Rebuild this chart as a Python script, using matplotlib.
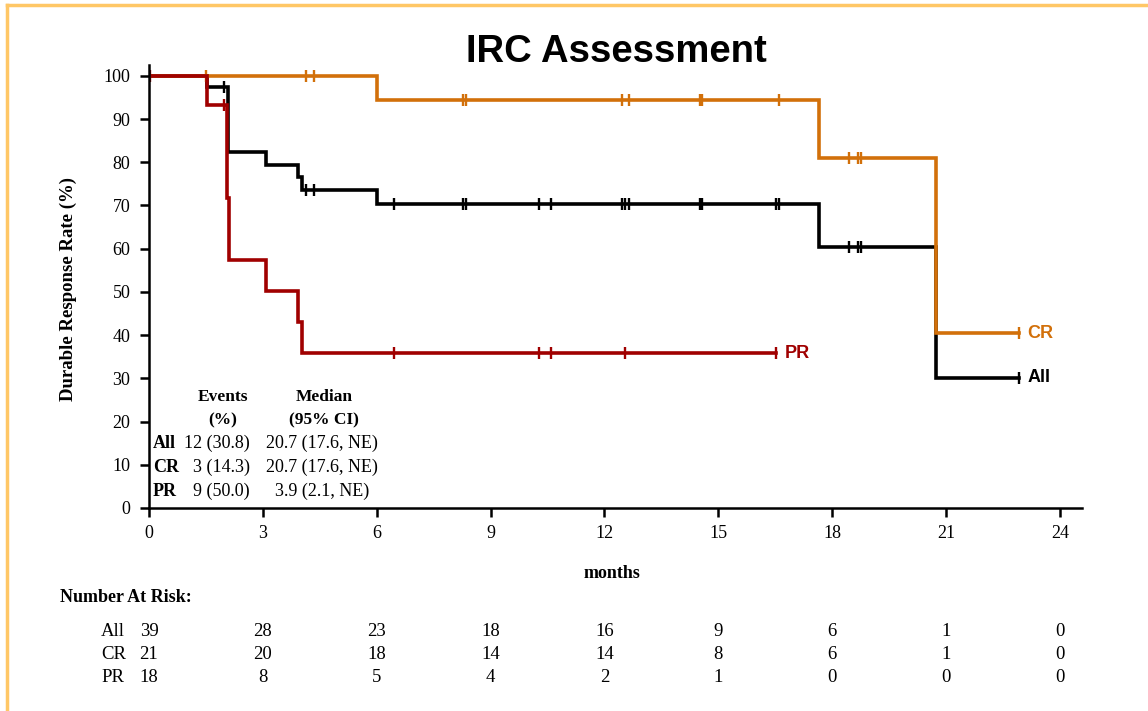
import numpy as np
import matplotlib.pyplot as plt
import matplotlib.transforms as mtransforms
from matplotlib.lines import Line2D

W, H = 1148, 711

# step curves: step times (months) and rate (%) after each step
all_t = [0, 1.52, 2.08, 3.07, 3.92, 4.02, 6.0, 17.66, 20.73, 22.93]
all_s = [100, 97.4, 82.3, 79.4, 76.5, 73.5, 70.4, 60.3, 30.1, 30.1]
all_cens = [1.98, 4.13, 4.34, 6.45, 8.28, 8.35, 10.28, 10.58, 12.47, 12.54, 12.65,
            14.52, 14.56, 16.53, 16.6, 18.45, 18.69, 18.76, 22.93]

cr_t = [0, 6.0, 17.66, 20.73, 22.93]
cr_s = [100, 94.3, 80.9, 40.4, 40.4]
cr_cens = [1.49, 4.13, 4.34, 8.28, 8.35, 12.47, 12.65, 14.52, 14.56, 16.6,
           18.45, 18.69, 18.76, 22.93]

pr_t = [0, 1.54, 2.06, 2.1, 3.07, 3.92, 4.02, 16.53]
pr_s = [100, 93.3, 71.7, 57.3, 50.3, 43.0, 35.8, 35.8]
pr_cens = [0.03, 1.98, 6.45, 10.28, 10.58, 12.54, 16.53]

# events / median table
tab_groups = ['All', 'CR', 'PR']
tab_events = ['12 (30.8)', '3 (14.3)', '9 (50.0)']
tab_median = ['20.7 (17.6, NE)', '20.7 (17.6, NE)', '3.9 (2.1, NE)']

# number at risk
risk_months = [0, 3, 6, 9, 12, 15, 18, 21, 24]
risk_all = [39, 28, 23, 18, 16, 9, 6, 1, 0]
risk_cr = [21, 20, 18, 14, 14, 8, 6, 1, 0]
risk_pr = [18, 8, 5, 4, 2, 1, 0, 0, 0]

c_all = 'black'
c_cr = '#d2700a'
c_pr = '#a00000'

serif = 'Liberation Serif'
sans = 'Liberation Sans'


def px(x, y):
    return x / W, 1 - y / H


def level_at(t, s, x):
    i = np.searchsorted(np.array(t), np.array(x), side='right') - 1
    return np.array(s)[i]


fig = plt.figure(figsize=(W / 100, H / 100), dpi=100)
ax = fig.add_axes([149 / W, 1 - 508 / H, (1082 - 149) / W, (508 - 65) / H])

for t, s, cens, col in [(all_t, all_s, all_cens, c_all),
                        (cr_t, cr_s, cr_cens, c_cr),
                        (pr_t, pr_s, pr_cens, c_pr)]:
    ax.step(t, s, where='post', color=col, lw=2.6, solid_joinstyle='miter')
    ax.plot(cens, level_at(t, s, cens), ls='none', marker='|', ms=9,
            mew=1.7, color=col)

for t, s, name, col in [(all_t, all_s, 'All', c_all), (cr_t, cr_s, 'CR', c_cr),
                        (pr_t, pr_s, 'PR', c_pr)]:
    ax.annotate(name, (t[-1], s[-1]), xytext=(6, 0), textcoords='offset points',
                va='center', ha='left', color=col, fontsize=13,
                fontweight='bold', family=sans)

ax.set_xlim(0, 24.58)
ax.set_ylim(0, 102.5)
ax.set_xticks(risk_months)
ax.set_yticks(range(0, 101, 10))
for side in ['top', 'right']:
    ax.spines[side].set_visible(False)
for side in ['left', 'bottom']:
    ax.spines[side].set_linewidth(1.8)
ax.tick_params(direction='out', length=6.5, width=1.8, labelsize=13)
ax.tick_params(axis='y', pad=7)
ax.tick_params(axis='x', pad=6)
for lab in ax.get_xticklabels() + ax.get_yticklabels():
    lab.set_family(serif)

fig.text(*px(616, 62), 'IRC Assessment', ha='center', va='baseline',
         fontsize=27.5, fontweight='bold', family=sans)
fig.text(*px(68, 289), 'Durable Response Rate (%)', rotation=90, ha='center',
         va='center', fontsize=13.5, fontweight='bold', family=serif)
fig.text(*px(612, 578), 'months', ha='center', va='baseline', fontsize=13,
         fontweight='bold', family=serif)

# events / median box
fig.text(*px(223, 401), 'Events', ha='center', va='baseline', fontsize=12.5,
         fontweight='bold', family=serif)
fig.text(*px(223, 424), '(%)', ha='center', va='baseline', fontsize=12.5,
         fontweight='bold', family=serif)
fig.text(*px(324, 401), 'Median', ha='center', va='baseline', fontsize=12.5,
         fontweight='bold', family=serif)
fig.text(*px(324, 424), '(95% CI)', ha='center', va='baseline', fontsize=12.5,
         fontweight='bold', family=serif)
for i, (g, e, m) in enumerate(zip(tab_groups, tab_events, tab_median)):
    yy = 448 + 24 * i
    fig.text(*px(153, yy), g, ha='left', va='baseline', fontsize=13,
             fontweight='bold', family=serif)
    fig.text(*px(250, yy), e, ha='right', va='baseline', fontsize=13,
             family=serif)
    fig.text(*px(322, yy), m, ha='center', va='baseline', fontsize=13,
             family=serif)

# number at risk
fig.text(*px(60, 602), 'Number At Risk:', ha='left', va='baseline',
         fontsize=13, fontweight='bold', family=serif)
trans = mtransforms.blended_transform_factory(ax.transData, fig.transFigure)
for i, (g, vals) in enumerate(zip(tab_groups, [risk_all, risk_cr, risk_pr])):
    yy = 1 - (636 + 23 * i) / H
    fig.text(101 / W, yy, g, ha='left', va='baseline', fontsize=13.5,
             family=serif)
    for m, v in zip(risk_months, vals):
        ax.text(m, yy, str(v), transform=trans, ha='center', va='baseline',
                fontsize=13.5, family=serif)

# light orange frame on top and left
fig.add_artist(Line2D([7 / W, 1], [1 - 5 / H, 1 - 5 / H], color='#ffc766',
                      lw=2.5, transform=fig.transFigure))
fig.add_artist(Line2D([7 / W, 7 / W], [0, 1 - 5 / H], color='#ffc766',
                      lw=2.5, transform=fig.transFigure))

fig.savefig('out.png', dpi=100)
